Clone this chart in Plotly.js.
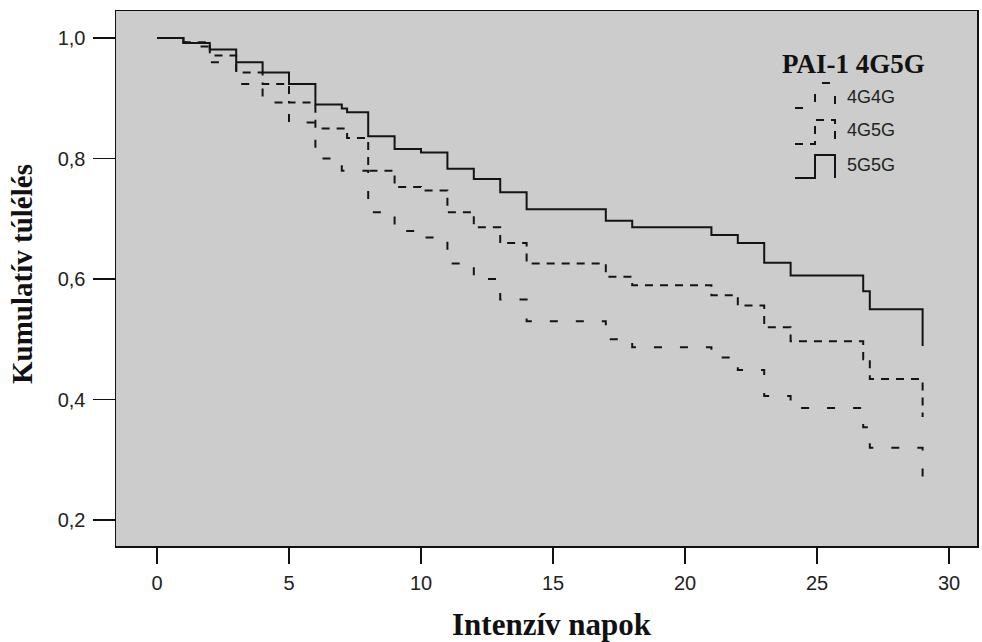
<!DOCTYPE html>
<html>
<head>
<meta charset="utf-8">
<script src="https://cdn.plot.ly/plotly-3.0.1.min.js"></script>
<style>
  html, body { margin: 0; padding: 0; background: #ffffff; }
  #chart { width: 982px; height: 642px; }
</style>
</head>
<body>
<div id="chart"></div>
<script>
// ---- Data (Kaplan-Meier step curves) ----
const days4G4G = [0, 1, 1.6, 2, 3, 4, 5, 6, 7, 8, 9, 10, 11, 12, 13, 14, 17, 18, 21, 22, 23, 24, 26.75, 27, 29];
const surv4G4G = [1.0, 0.993, 0.986, 0.960, 0.924, 0.893, 0.860, 0.800, 0.780, 0.711, 0.680, 0.669, 0.626, 0.600, 0.566, 0.530, 0.500, 0.487, 0.470, 0.449, 0.406, 0.386, 0.354, 0.320, 0.264];

const days4G5G = [0, 1, 2, 3, 4, 5, 6, 7.2, 8, 9, 10, 11, 12, 13, 14, 17, 18, 21, 22, 23, 24, 26.75, 27, 29];
const surv4G5G = [1.0, 0.993, 0.971, 0.943, 0.924, 0.893, 0.850, 0.834, 0.780, 0.753, 0.747, 0.711, 0.686, 0.660, 0.626, 0.604, 0.590, 0.573, 0.556, 0.520, 0.497, 0.467, 0.434, 0.371];

const days5G5G = [0, 1, 2, 3, 4, 5, 6, 7, 7.2, 8, 9, 10, 11, 12, 13, 14, 17, 18, 21, 22, 23, 24, 26.75, 27, 29];
const surv5G5G = [1.0, 0.992, 0.981, 0.960, 0.943, 0.924, 0.890, 0.883, 0.877, 0.837, 0.816, 0.810, 0.783, 0.766, 0.744, 0.716, 0.697, 0.686, 0.673, 0.660, 0.627, 0.606, 0.580, 0.550, 0.489];

const groupNames = ["4G4G", "4G5G", "5G5G"];
const legendTitle = "PAI-1 4G5G";
const xTickVals = [0, 5, 10, 15, 20, 25, 30];
const yTickVals = [0.2, 0.4, 0.6, 0.8, 1.0];
const xTitle = "Intenzív napok";
const yTitle = "Kumulatív túlélés";

// ---- Styles ----
const lineColor = "#141414";
const dashes = ["8px,18px", "8px,7px", "solid"];

const W = 982, H = 642;
const M = { l: 116, r: 5, t: 11, b: 96 };
const PW = W - M.l - M.r, PH = H - M.t - M.b;
const px = v => (v - M.l) / PW;       // pixel x -> paper x
const py = v => (H - M.b - v) / PH;   // pixel y -> paper y

const series = [
  { x: days4G4G, y: surv4G4G },
  { x: days4G5G, y: surv4G5G },
  { x: days5G5G, y: surv5G5G }
];

const traces = series.map((s, i) => ({
  x: s.x, y: s.y, name: groupNames[i],
  type: "scatter", mode: "lines",
  line: { shape: "hv", color: lineColor, width: 2, dash: dashes[i] },
  showlegend: false, hoverinfo: "skip"
}));

// ---- Custom legend (step-shaped symbols) ----
const legRows = [
  { yb: 108, yt: 83, ty: 96.5 },
  { yb: 144, yt: 120, ty: 130 },
  { yb: 178, yt: 155, ty: 165 }
];
const shapes = legRows.map((r, i) => ({
  type: "path", xref: "paper", yref: "paper",
  path: `M ${px(795)},${py(r.yb)} L ${px(815)},${py(r.yb)} L ${px(815)},${py(r.yt)} L ${px(835)},${py(r.yt)} L ${px(835)},${py(r.yb)}`,
  line: { color: lineColor, width: 2, dash: dashes[i] }
}));

const annotations = [
  { text: legendTitle, xref: "paper", yref: "paper", x: px(853), y: py(64),
    xanchor: "center", yanchor: "middle", showarrow: false,
    font: { family: "Liberation Serif, Times New Roman, serif", size: 27, color: "#111", weight: "bold" } },
  ...legRows.map((r, i) => ({
    text: groupNames[i], xref: "paper", yref: "paper", x: px(845), y: py(r.ty),
    xanchor: "left", yanchor: "middle", showarrow: false,
    font: { family: "Liberation Sans, Arial, sans-serif", size: 18, color: "#222" }
  })),
  { text: xTitle, xref: "paper", yref: "paper", x: px(552), y: py(624),
    xanchor: "center", yanchor: "middle", showarrow: false,
    font: { family: "Liberation Serif, Times New Roman, serif", size: 31, color: "#111", weight: "bold" } },
  { text: yTitle, xref: "paper", yref: "paper", x: px(22), y: py(274),
    xanchor: "center", yanchor: "middle", showarrow: false, textangle: -90,
    font: { family: "Liberation Serif, Times New Roman, serif", size: 29, color: "#111", weight: "bold" } }
];

const layout = {
  width: W, height: H,
  margin: M,
  paper_bgcolor: "#ffffff",
  plot_bgcolor: "#cccccc",
  separators: ",.",
  showlegend: false,
  xaxis: {
    range: [-1.553, 31.06],
    tickvals: xTickVals, tickformat: "d",
    ticks: "outside", ticklen: 16, tickwidth: 1.5, tickcolor: "#111",
    ticklabelstandoff: 2,
    showline: true, mirror: true, linecolor: "#111", linewidth: 1.5,
    showgrid: false, zeroline: false,
    tickfont: { family: "Liberation Sans, Arial, sans-serif", size: 20, color: "#222" }
  },
  yaxis: {
    range: [0.157, 1.045],
    tickvals: yTickVals, tickformat: ".1f",
    ticks: "outside", ticklen: 22, tickwidth: 1.5, tickcolor: "#111",
    ticklabelstandoff: 3,
    showline: true, mirror: true, linecolor: "#111", linewidth: 1.5,
    showgrid: false, zeroline: false,
    tickfont: { family: "Liberation Sans, Arial, sans-serif", size: 20, color: "#222" }
  },
  shapes: shapes,
  annotations: annotations
};

Plotly.newPlot("chart", traces, layout, { staticPlot: true, displayModeBar: false });
</script>
</body>
</html>
